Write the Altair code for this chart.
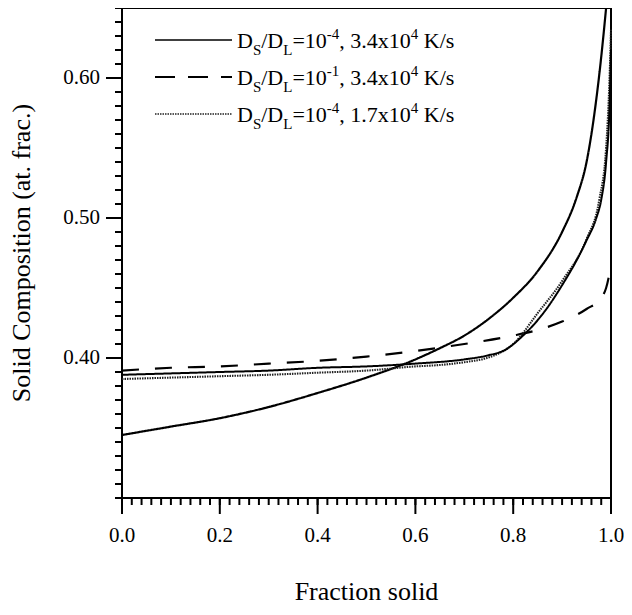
import altair as alt
import pandas as pd

# ---- data ----
series_names = ["A", "B", "C", "D"]

# thick solid: Ds/Dl=1e-4, 3.4e4 K/s
x_a = [0.0, 0.1, 0.2, 0.3, 0.4, 0.5, 0.6, 0.65, 0.7, 0.75, 0.8, 0.85, 0.9, 0.93, 0.95, 0.97, 0.98, 0.99]
y_a = [0.345, 0.351, 0.357, 0.365, 0.375, 0.386, 0.399, 0.407, 0.416, 0.428, 0.443, 0.462, 0.490, 0.515, 0.540, 0.585, 0.615, 0.650]

# dashed: Ds/Dl=1e-1, 3.4e4 K/s
x_b = [0.0, 0.1, 0.2, 0.3, 0.4, 0.5, 0.6, 0.7, 0.8, 0.85, 0.9, 0.95, 0.98, 0.99, 1.0]
y_b = [0.391, 0.393, 0.394, 0.396, 0.398, 0.401, 0.405, 0.410, 0.416, 0.420, 0.426, 0.435, 0.443, 0.450, 0.466]

# dotted: Ds/Dl=1e-4, 1.7e4 K/s
x_c = [0.0, 0.1, 0.2, 0.3, 0.4, 0.5, 0.6, 0.65, 0.7, 0.746, 0.78, 0.8, 0.85, 0.9, 0.95, 0.976, 0.99, 0.997, 1.0]
y_c = [0.385, 0.386, 0.387, 0.388, 0.3895, 0.391, 0.394, 0.395, 0.397, 0.400, 0.405, 0.410, 0.432, 0.455, 0.485, 0.513, 0.550, 0.600, 0.635]

# thin solid (unlabelled curve)
x_d = [0.0, 0.1, 0.2, 0.3, 0.4, 0.5, 0.6, 0.7, 0.75, 0.783, 0.82, 0.85, 0.87, 0.9, 0.93, 0.95, 0.97, 0.98, 0.99, 0.997, 1.0]
y_d = [0.388, 0.389, 0.390, 0.391, 0.393, 0.394, 0.396, 0.399, 0.402, 0.4057, 0.416, 0.427, 0.436, 0.452, 0.470, 0.484, 0.500, 0.513, 0.540, 0.580, 0.620]

x_ticks_minor = [round(i * 0.02, 2) for i in range(51)]
y_ticks_minor = [round(0.30 + i * 0.01, 2) for i in range(36)]
x_ticks_major = [0.0, 0.2, 0.4, 0.6, 0.8, 1.0]
y_ticks_major = [0.40, 0.50, 0.60]
x_title = "Fraction solid"
y_title = "Solid Composition (at. frac.)"

legend_rows = [
    ["-4", "3.4x10"],
    ["-1", "3.4x10"],
    ["-4", "1.7x10"],
]

FONT = "Liberation Serif"
PW, PH = 489, 490
XD, YD = [0.0, 1.0], [0.30, 0.65]

frames = []
for name, xs, ys in zip(series_names, [x_a, x_b, x_c, x_d], [y_a, y_b, y_c, y_d]):
    frames.append(pd.DataFrame({"x": xs, "y": ys, "s": name}))
df = pd.concat(frames, ignore_index=True)

xscale = alt.Scale(domain=XD, nice=False, zero=False)
yscale = alt.Scale(domain=YD, nice=False, zero=False)

lines = alt.Chart(df).mark_line(interpolate="monotone").encode(
    x=alt.X("x:Q", scale=xscale, axis=None),
    y=alt.Y("y:Q", scale=yscale, axis=None),
    detail="s:N",
    color=alt.Color("s:N", scale=alt.Scale(domain=series_names, range=["black", "black", "#222222", "black"]), legend=None),
    strokeDash=alt.StrokeDash("s:N", scale=alt.Scale(domain=series_names, range=[[1, 0], [17, 16], [1.5, 1], [1, 0]]), legend=None),
    strokeWidth=alt.StrokeWidth("s:O", scale=alt.Scale(domain=series_names, range=[2.2, 2.0, 1.8, 1.0]), legend=None),
)


# ---- hand-drawn axes: ticks (outward), labels, titles ----
def xticks(vals, length):
    return alt.Chart(pd.DataFrame({"v": vals})).mark_rule(color="black", strokeWidth=2, clip=False).encode(
        x=alt.X("v:Q", scale=xscale, axis=None), y=alt.value(PH), y2=alt.value(PH + length))


def yticks(vals, length):
    return alt.Chart(pd.DataFrame({"v": vals})).mark_rule(color="black", strokeWidth=2, clip=False).encode(
        y=alt.Y("v:Q", scale=yscale, axis=None), x=alt.value(0), x2=alt.value(-length))


tick_layers = [xticks(x_ticks_minor, 7), xticks(x_ticks_major, 16),
               yticks(y_ticks_minor, 7), yticks(y_ticks_major, 16)]

xlab = alt.Chart(pd.DataFrame({"v": x_ticks_major, "t": [f"{v:.1f}" for v in x_ticks_major]})).mark_text(
    font=FONT, fontSize=21, color="black", align="center", baseline="middle").encode(
    x=alt.X("v:Q", scale=xscale, axis=None), y=alt.value(PH + 38), text="t:N")
ylab = alt.Chart(pd.DataFrame({"v": y_ticks_major, "t": [f"{v:.2f}" for v in y_ticks_major]})).mark_text(
    font=FONT, fontSize=21, color="black", align="right", baseline="middle").encode(
    y=alt.Y("v:Q", scale=yscale, axis=None), x=alt.value(-22), text="t:N")

dummy = pd.DataFrame({"k": [0]})
xtitle = alt.Chart(dummy).mark_text(font=FONT, fontSize=26, color="black", align="center",
                                    baseline="middle").encode(
    x=alt.value(PW / 2), y=alt.value(PH + 94), text=alt.value(x_title))
ytitle = alt.Chart(dummy).mark_text(font=FONT, fontSize=26, color="black", align="center",
                                    baseline="middle", angle=270).encode(
    x=alt.value(-100), y=alt.value(PH / 2), text=alt.value(y_title))

# ---- hand-built legend (plot-area pixel coordinates) ----
line_x1, line_x2, text_x0 = 33, 110, 115
row_y = [32, 69, 106]
F, f = 22, 15
W = {"D": 722, "S": 556, "/": 278, "L": 611, "=": 564, "-": 333, ",": 250, " ": 250,
     ".": 250, "x": 500, "K": 722, "s": 389}
for d in "0123456789":
    W[d] = 500


def tw(t, size):
    return sum(W[c] for c in t) * size / 1000.0


legend_layers = []
dash_styles = [dict(stroke="black", strokeWidth=1.5),
               dict(stroke="black", strokeWidth=2.2, strokeDash=[20, 13]),
               dict(stroke="#222222", strokeWidth=1.6, strokeDash=[1.5, 1])]
for i, (exp, mant) in enumerate(legend_rows):
    y0 = row_y[i]
    legend_layers.append(
        alt.Chart(dummy).mark_rule(**dash_styles[i]).encode(
            x=alt.value(line_x1), x2=alt.value(line_x2), y=alt.value(y0)))
    pieces = [("D", "n"), ("S", "sub"), ("/D", "n"), ("L", "sub"), ("=10", "n"),
              (exp, "sup"), (", " + mant, "n"), ("4", "sup"), (" K/s", "n")]
    cx = text_x0
    base = y0 + 8
    for t, kind in pieces:
        size = F if kind == "n" else f
        dy = 0 if kind == "n" else (7 if kind == "sub" else -9)
        shown = t.lstrip(" ")
        lead = tw(t[: len(t) - len(shown)], size)
        legend_layers.append(
            alt.Chart(dummy).mark_text(align="left", baseline="alphabetic", font=FONT,
                                       fontSize=size, color="black").encode(
                x=alt.value(cx + lead), y=alt.value(base + dy), text=alt.value(shown)))
        cx += tw(t, size)

chart = alt.layer(lines, xlab, ylab, xtitle, ytitle, *legend_layers, *tick_layers).properties(
    width=PW, height=PH, autosize="none",
    padding={"left": 114, "top": 0, "right": 13, "bottom": 107},
).configure_view(stroke="black", strokeWidth=2)

chart.save("out.html", embed_options={"renderer": "svg", "actions": False})
